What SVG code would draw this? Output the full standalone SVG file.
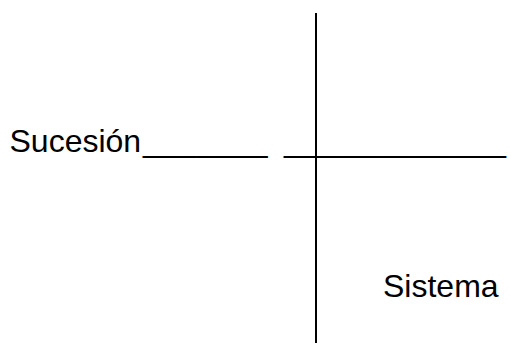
<svg xmlns="http://www.w3.org/2000/svg" width="510" height="345" viewBox="0 0 510 345">
<style>
text{font-family:"Liberation Sans",Arial,sans-serif;font-size:32px;fill:#000}
.ax{stroke:#000;stroke-width:2;fill:none}
</style>
<rect width="510" height="345" fill="#fff"/>
<g id="connectors">
<line class="ax" x1="316" y1="13" x2="316" y2="343"/>
</g>
<g id="sucesion">
<text x="9.5" y="152">Sucesión<tspan x="143">_______</tspan></text>
<text x="284" y="152" textLength="222" lengthAdjust="spacingAndGlyphs">____________</text>
</g>
<g id="sistema">
<text x="383" y="297">Sistema</text>
</g>
</svg>
